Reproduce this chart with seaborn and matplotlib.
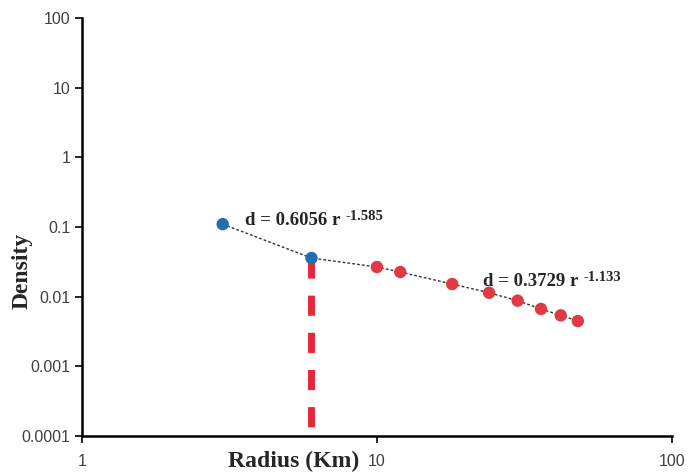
import pandas as pd
import seaborn as sns
import matplotlib.pyplot as plt
from matplotlib.ticker import FuncFormatter, NullLocator, FixedLocator

# data
radius_blue = [3, 6]
density_blue = [0.110, 0.0359]
radius_red = [10, 12, 18, 24, 30, 36, 42, 48]
density_red = [0.0267, 0.0226, 0.0152, 0.0114, 0.00877, 0.00667, 0.0054, 0.00448]
y_ticks = [0.0001, 0.001, 0.01, 0.1, 1, 10, 100]
x_ticks = [1, 10, 100]
fit_small = ('d = 0.6056 r', '-1.585')
fit_large = ('d = 0.3729 r', '-1.133')

df = pd.concat([
    pd.DataFrame({'radius': radius_blue, 'density': density_blue, 'group': 'small'}),
    pd.DataFrame({'radius': radius_red, 'density': density_red, 'group': 'large'}),
], ignore_index=True)

sns.set_style('white')
plt.rcParams['font.family'] = ['Liberation Sans', 'DejaVu Sans']

fig = plt.figure(figsize=(6.98, 4.76), dpi=100)
ax = fig.add_axes([0.1175, 0.084, 0.845, 0.878])

# dotted connecting line through all points
ax.plot(df['radius'], df['density'], ls=(0, (2, 1.5)), color='#333333', lw=1.0, zorder=2)

# vertical break marker at r = 6, dashes start at the point and run down
ax.plot([radius_blue[1], radius_blue[1]], [density_blue[1], y_ticks[0]],
        color='#e8283a', lw=5, ls=(0, (2.9, 2.45)), solid_capstyle='butt',
        dash_capstyle='butt', zorder=1)

sns.scatterplot(data=df, x='radius', y='density', hue='group',
                palette={'small': '#1f6fb5', 'large': '#e03a45'},
                s=80, edgecolor='none', legend=False, ax=ax, zorder=3)

ax.set_xscale('log')
ax.set_yscale('log')
ax.set_xlim(1, 100)
ax.set_ylim(1e-4, 100)

fmt = FuncFormatter(lambda v, pos: '{:g}'.format(v))
ax.xaxis.set_major_locator(FixedLocator(x_ticks))
ax.yaxis.set_major_locator(FixedLocator(y_ticks))
ax.xaxis.set_major_formatter(fmt)
ax.yaxis.set_major_formatter(fmt)
ax.xaxis.set_minor_locator(NullLocator())
ax.yaxis.set_minor_locator(NullLocator())
ax.tick_params(axis='both', direction='out', length=5, width=1.2, colors='black',
               labelsize=11.5, labelcolor='#404040', bottom=True, left=True)
ax.tick_params(axis='x', pad=8)

for side in ['top', 'right']:
    ax.spines[side].set_visible(False)
for side in ['left', 'bottom']:
    ax.spines[side].set_color('black')
    ax.spines[side].set_linewidth(1.8)

ax.set_xlabel('')
ax.set_ylabel('')
fig.text(0.42, 0.03, 'Radius (Km)', ha='center', va='center', fontsize=17,
         fontweight='bold', family='Liberation Serif')
fig.text(0.032, 0.43, 'Density', ha='center', va='center', rotation=90, fontsize=17,
         fontweight='bold', family='Liberation Serif')


def power_label(x, y, parts):
    base, expo = parts
    t = ax.text(x, y, base, fontsize=13.5, fontweight='bold', family='Liberation Serif',
                va='baseline', ha='left')
    ax.annotate(expo, xy=(1, 1), xycoords=t, xytext=(4, 1.5), textcoords='offset points',
                fontsize=10.5, fontweight='bold', family='Liberation Serif',
                va='top', ha='left')


power_label(3.57, 0.107, fit_small)
power_label(22.9, 0.0144, fit_large)

fig.savefig('out.png', dpi=100)
